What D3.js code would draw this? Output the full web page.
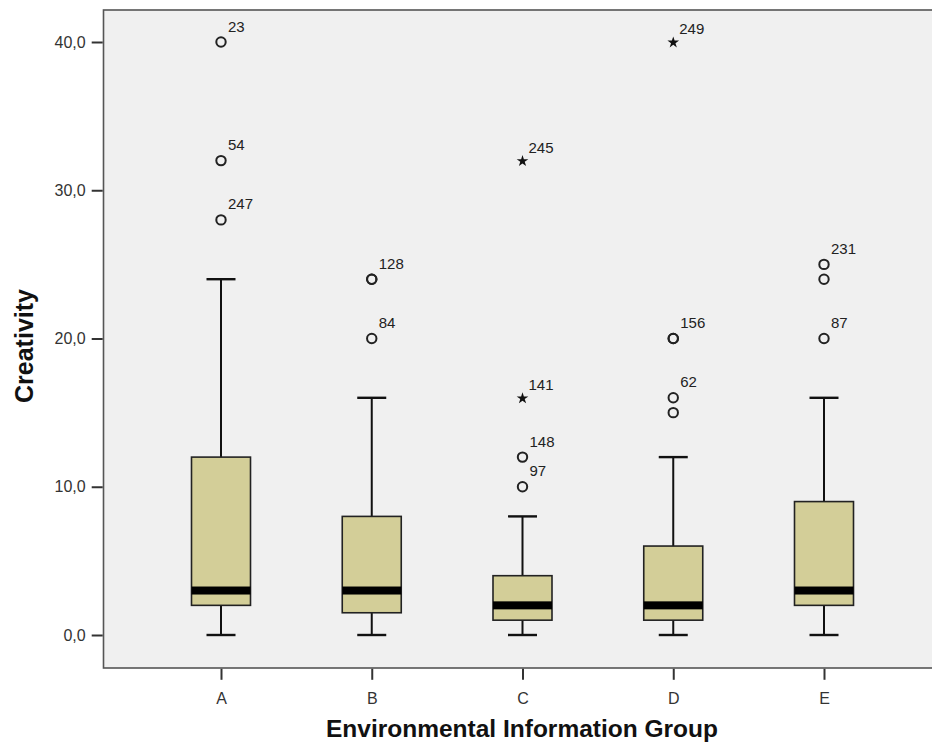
<!DOCTYPE html>
<html>
<head>
<meta charset="utf-8">
<script src="https://cdn.jsdelivr.net/npm/d3@7"></script>
<style>
  body { margin: 0; background: #fff; }
  svg { font-family: Arial, "Liberation Sans", sans-serif; }
</style>
</head>
<body>
<div id="chart"></div>
<script>
// chart data
var groups = ["A", "B", "C", "D", "E"];
var whiskerLow  = [0, 0, 0, 0, 0];
var q1          = [2, 1.5, 1, 1, 2];
var medians     = [3, 3, 2, 2, 3];
var q3          = [12, 8, 4, 6, 9];
var whiskerHigh = [24, 16, 8, 12, 16];
// outliers: value, case label, kind ("o" = outlier, "*" = extreme)
var outliersA = [[40, "23", "o"], [32, "54", "o"], [28, "247", "o"]];
var outliersB = [[24, "128", "o"], [24, "", "o"], [20, "84", "o"]];
var outliersC = [[32, "245", "*"], [16, "141", "*"], [12, "148", "o"], [10, "97", "o"]];
var outliersD = [[40, "249", "*"], [20, "156", "o"], [20, "", "o"], [16, "62", "o"], [15, "", "o"]];
var outliersE = [[25, "231", "o"], [24, "", "o"], [20, "87", "o"]];
var yTicks = [0, 10, 20, 30, 40];

var svgWidth = 932;
var svgHeight = 742;
var frame = { left: 103.5, top: 10, right: 934, bottom: 668 };

var svg = d3.select("#chart").append("svg")
  .attr("width", svgWidth)
  .attr("height", svgHeight);

var xScale = d3.scalePoint().domain(groups).range([221, 824]);
var yScale = d3.scaleLinear().domain([0, 40]).range([635, 42]);

var commaFmt = d3.formatLocale({ decimal: ",", thousands: ".", grouping: [3], currency: ["", ""] }).format(".1f");

// plot background + frame
svg.append("rect")
  .attr("x", frame.left)
  .attr("y", frame.top)
  .attr("width", frame.right - frame.left)
  .attr("height", frame.bottom - frame.top)
  .attr("fill", "#f0f0f0")
  .attr("stroke", "#555")
  .attr("stroke-width", 1.6);

// axes
var yAxis = svg.append("g")
  .attr("transform", `translate(${frame.left - 0.8},0)`)
  .call(d3.axisLeft(yScale).tickValues(yTicks).tickFormat(commaFmt).tickSize(11).tickPadding(6));
yAxis.select(".domain").remove();
yAxis.selectAll(".tick line").attr("stroke", "#333").attr("stroke-width", 2);
yAxis.selectAll(".tick text").attr("fill", "#333").style("font-size", "16px");

var xAxis = svg.append("g")
  .attr("transform", `translate(0,${frame.bottom + 0.8})`)
  .call(d3.axisBottom(xScale).tickSize(11).tickPadding(13));
xAxis.select(".domain").remove();
xAxis.selectAll(".tick line").attr("stroke", "#333").attr("stroke-width", 2);
xAxis.selectAll(".tick text").attr("fill", "#333").style("font-size", "16px");

// axis titles
svg.append("text")
  .attr("x", 522)
  .attr("y", 737)
  .attr("text-anchor", "middle")
  .style("font-size", "24.5px")
  .style("font-weight", "bold")
  .attr("fill", "#111")
  .text("Environmental Information Group");

svg.append("text")
  .attr("transform", "translate(33,346) rotate(-90)")
  .attr("text-anchor", "middle")
  .style("font-size", "25px")
  .style("font-weight", "bold")
  .attr("fill", "#111")
  .text("Creativity");

// box plot rows
var boxData = groups.map((g, i) => ({
  group: g, lo: whiskerLow[i], q1: q1[i], med: medians[i], q3: q3[i], hi: whiskerHigh[i]
}));

var boxW = 59;
var capW = 29;
var boxG = svg.append("g").selectAll("g")
  .data(boxData)
  .enter()
  .append("g")
  .attr("transform", d => `translate(${xScale(d.group)},0)`);

// whisker stems
boxG.append("line")
  .attr("x1", 0).attr("x2", 0)
  .attr("y1", d => yScale(d.hi)).attr("y2", d => yScale(d.lo))
  .attr("stroke", "#111").attr("stroke-width", 2);
// caps
boxG.selectAll(".cap")
  .data(d => [d.lo, d.hi])
  .enter()
  .append("line")
  .attr("class", "cap")
  .attr("x1", -capW / 2).attr("x2", capW / 2)
  .attr("y1", v => yScale(v)).attr("y2", v => yScale(v))
  .attr("stroke", "#111").attr("stroke-width", 2.4);
// box
boxG.append("rect")
  .attr("x", -boxW / 2)
  .attr("width", boxW)
  .attr("y", d => yScale(d.q3))
  .attr("height", d => yScale(d.q1) - yScale(d.q3))
  .attr("fill", "#d3ce98")
  .attr("stroke", "#222")
  .attr("stroke-width", 1.6);
// median band
boxG.append("rect")
  .attr("x", -boxW / 2)
  .attr("width", boxW)
  .attr("y", d => yScale(d.med) - 4)
  .attr("height", 8)
  .attr("fill", "#000");

// outliers
var outlierLists = [outliersA, outliersB, outliersC, outliersD, outliersE];
var points = [];
outlierLists.forEach((list, i) => {
  list.forEach(o => points.push({ group: groups[i], value: o[0], label: o[1], kind: o[2] }));
});

var ptG = svg.append("g");
ptG.selectAll("circle")
  .data(points.filter(p => p.kind === "o"))
  .enter()
  .append("circle")
  .attr("cx", d => xScale(d.group))
  .attr("cy", d => yScale(d.value))
  .attr("r", 4.7)
  .attr("fill", "none")
  .attr("stroke", "#222")
  .attr("stroke-width", 2);

ptG.selectAll("path")
  .data(points.filter(p => p.kind === "*"))
  .enter()
  .append("path")
  .attr("transform", d => `translate(${xScale(d.group)},${yScale(d.value) + 0.5})`)
  .attr("d", d3.symbol().type(d3.symbolStar).size(42))
  .attr("fill", "#111");

ptG.selectAll("text")
  .data(points.filter(p => p.label !== ""))
  .enter()
  .append("text")
  .attr("x", d => xScale(d.group) + (d.kind === "*" ? 6 : 7))
  .attr("y", d => yScale(d.value) - (d.kind === "*" ? 8 : 10.5))
  .style("font-size", "15px")
  .attr("fill", "#222")
  .text(d => d.label);
</script>
</body>
</html>
